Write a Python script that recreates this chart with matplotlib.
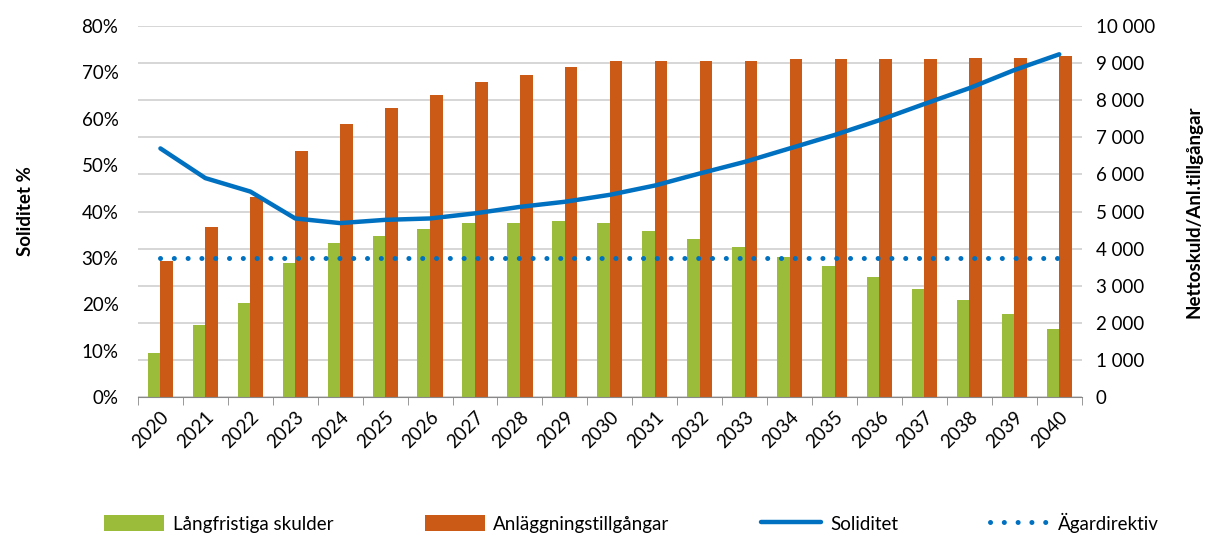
import numpy as np
import matplotlib
matplotlib.use('Agg')
import matplotlib.pyplot as plt
from matplotlib.ticker import FuncFormatter

plt.rcParams['font.family'] = ['Lato', 'DejaVu Sans']

# data
years = [str(y) for y in range(2020, 2041)]
langfristiga = [1180, 1940, 2525, 3620, 4140, 4340, 4540, 4680, 4680, 4735, 4680,
                4480, 4250, 4050, 3765, 3530, 3245, 2900, 2615, 2230, 1840]
anlaggning = [3675, 4575, 5400, 6640, 7365, 7800, 8130, 8480, 8670, 8905, 9055,
              9055, 9055, 9055, 9100, 9100, 9100, 9100, 9145, 9145, 9200]
soliditet = [53.6, 47.2, 44.3, 38.5, 37.5, 38.2, 38.5, 39.6, 41.0, 42.1, 43.6,
             45.6, 48.2, 50.7, 53.6, 56.5, 59.7, 63.2, 66.6, 70.5, 73.9]
agardirektiv = [30] * len(years)

green = '#9bbb3b'
orange = '#cc5a17'
blue = '#0070c0'

fig = plt.figure(figsize=(12.1, 5.36), dpi=100)
ax = fig.add_axes([0.114, 0.2593, 0.78, 0.6922])
ax2 = ax.twinx()

x = np.arange(len(years))
w = 0.28

# bars on the right axis
ax2.bar(x - w / 2, langfristiga, w, color=green, label='Långfristiga skulder', zorder=2)
ax2.bar(x + w / 2, anlaggning, w, color=orange, label='Anläggningstillgångar', zorder=2)

# lines on the left axis, put that axis on top
ax.set_zorder(ax2.get_zorder() + 1)
ax.patch.set_visible(False)
ax.plot(x, soliditet, color=blue, lw=3.2, solid_capstyle='round', label='Soliditet')
ax.plot(x, agardirektiv, color=blue, lw=3.6, linestyle=(0, (0.01, 2.75)),
        dash_capstyle='round', label='Ägardirektiv')

ax.set_ylim(0, 80)
ax.set_yticks(range(0, 81, 10))
ax.yaxis.set_major_formatter(FuncFormatter(lambda v, p: f'{int(v)}%'))
ax2.set_ylim(0, 10000)
ax2.set_yticks(range(0, 10001, 1000))
ax2.yaxis.set_major_formatter(FuncFormatter(lambda v, p: f'{int(v):,}'.replace(',', ' ')))

ax.set_xlim(-0.5, len(years) - 0.5)
ax.set_xticks(x)
ax.set_xticklabels(years, rotation=45, ha='right', rotation_mode='anchor', fontsize=13.5)
ax.set_xticks(np.arange(-0.5, len(years), 1), minor=True)
ax.tick_params(axis='x', which='major', length=0, pad=8)
ax.tick_params(axis='x', which='minor', length=6, color='#888888')
ax.tick_params(axis='y', length=0, labelsize=13.5, pad=14)
ax2.tick_params(axis='y', length=0, labelsize=13.5, pad=10)

# grid behind the bars
ax2.grid(axis='y', color='#d0d0d0', lw=1.2, zorder=0)
ax2.set_axisbelow(True)
for a in (ax, ax2):
    for s in ['top', 'left', 'right']:
        a.spines[s].set_visible(False)
ax.spines['bottom'].set_color('#888888')
ax2.spines['bottom'].set_visible(False)

ax.set_ylabel('Soliditet %', fontsize=13.5, fontweight='bold', labelpad=34)
ax2.set_ylabel('Nettoskuld/Anl.tillgångar', fontsize=13.5, fontweight='bold', labelpad=22)

h1, l1 = ax2.get_legend_handles_labels()
h2, l2 = ax.get_legend_handles_labels()
fig.legend(h1 + h2, l1 + l2, loc='lower center', ncol=4, frameon=False,
           fontsize=13.5, bbox_to_anchor=(0.522, -0.025), handlelength=3.2,
           handleheight=0.9, handletextpad=0.45, columnspacing=4.9)

fig.savefig('out.png', dpi=100)
